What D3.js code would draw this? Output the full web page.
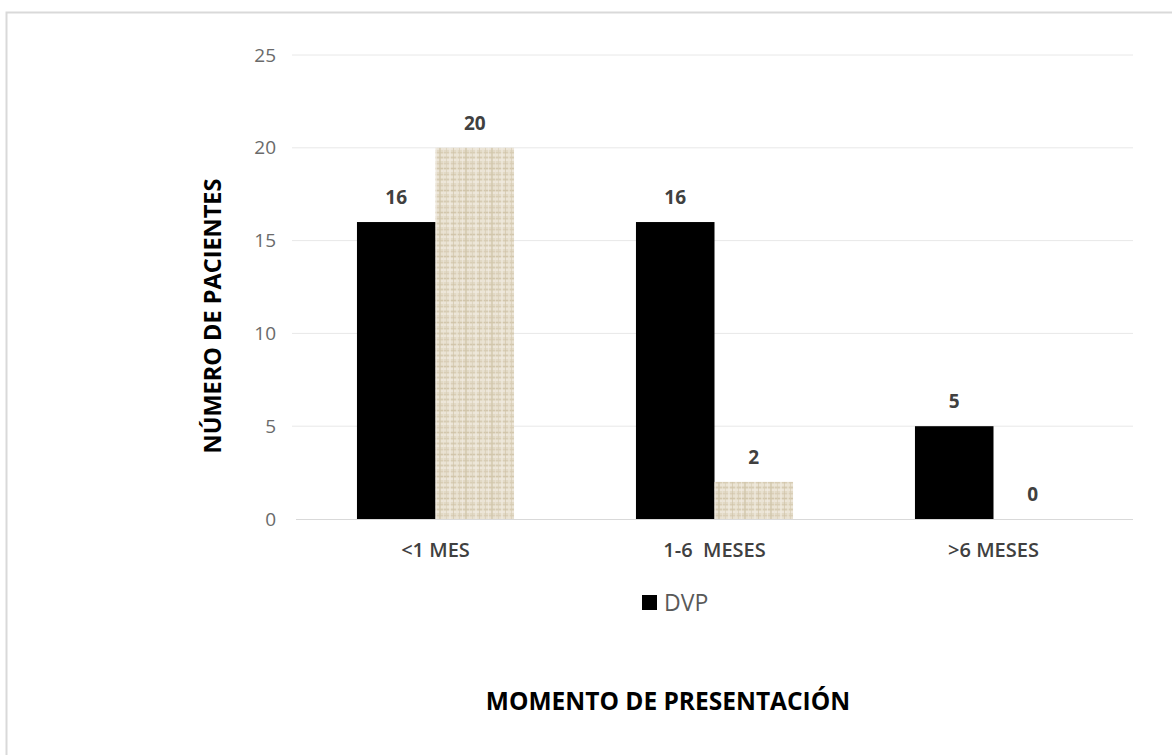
<!DOCTYPE html>
<html><head><meta charset="utf-8">
<script src="https://cdn.jsdelivr.net/npm/d3@7"></script>
<style>body{margin:0;background:#fff}svg{display:block}</style>
</head><body>
<svg id="c" width="1172" height="755"></svg>
<script>
const categories = ["<1 MES", "1-6  MESES", ">6 MESES"];
const seriesNames = ["DVP", ""];
const dvpValues = [16, 16, 5];
const otherValues = [20, 2, 0];
const yTicks = [0, 5, 10, 15, 20, 25];

(function () {
const svg = d3.select("#c");
const font = "'Open Sans', 'Noto Sans', sans-serif";

// outer frame
svg.append("rect").attr("x", 6.5).attr("y", 12.5).attr("width", 1200).attr("height", 800)
  .attr("fill", "none").attr("stroke", "#d9d9d9").attr("stroke-width", 2);

// pattern for burlap texture (fixed, hand-placed threads)
const defs = svg.append("defs");
const pat = defs.append("pattern").attr("id", "burlap").attr("patternUnits", "userSpaceOnUse")
  .attr("width", 26).attr("height", 22);
pat.append("rect").attr("width", 26).attr("height", 22).attr("fill", "#e2d9c5");
const hLines = [[0, 2, "#ece6d8"], [3, 1, "#d4c9b0"], [5, 2, "#efe9dd"], [9, 1, "#d8cdb5"],
                [11, 2, "#e9e2d2"], [14, 1, "#cfc3a8"], [16, 2, "#eee8dc"], [20, 1, "#d6cbb2"]];
hLines.forEach(([yy, h, c]) => pat.append("rect").attr("x", 0).attr("y", yy).attr("width", 26).attr("height", h).attr("fill", c).attr("opacity", 0.85));
const vLines = [[1, 1, "#f1ece1"], [4, 2, "#d2c6ac"], [8, 1, "#ece5d6"], [11, 1, "#d9cfb8"],
                [14, 2, "#f0eadf"], [18, 1, "#d0c4a9"], [21, 2, "#ebe4d5"], [24, 1, "#d7ccb4"]];
vLines.forEach(([xx, w, c]) => pat.append("rect").attr("x", xx).attr("y", 0).attr("width", w).attr("height", 22).attr("fill", c).attr("opacity", 0.7));

const mLeft = 296, mRight = 1133, mTop = 55, mBottom = 519;
const x = d3.scaleBand().domain(categories).range([mLeft, mRight]).paddingInner(0.437).paddingOuter(0.2185);
const xs = d3.scaleBand().domain([0, 1]).range([0, x.bandwidth()]);
const y = d3.scaleLinear().domain([0, 25]).range([mBottom, mTop]);

// gridlines
svg.append("g").selectAll("line").data(yTicks.filter(d => d > 0)).join("line")
  .attr("x1", mLeft - 4).attr("x2", mRight).attr("y1", d => y(d)).attr("y2", d => y(d))
  .attr("stroke", "#e8e8e8").attr("stroke-width", 1);

// y axis
const yAxis = svg.append("g").attr("transform", `translate(${mLeft},0)`)
  .call(d3.axisLeft(y).tickValues(yTicks).tickSize(0).tickPadding(20));
yAxis.select(".domain").remove();
yAxis.attr("font-size", 19).attr("font-family", font);
yAxis.selectAll("text").attr("font-family", font).attr("font-size", 19).attr("fill", "#6a6a6a");

// bars
const data = categories.map((c, i) => ({ c, vals: [dvpValues[i], otherValues[i]] }));
const groups = svg.append("g").selectAll("g").data(data).join("g")
  .attr("transform", d => `translate(${x(d.c)},0)`);
groups.selectAll("rect").data(d => d.vals.map((v, k) => ({ v, k }))).join("rect")
  .attr("x", d => xs(d.k)).attr("width", xs.bandwidth())
  .attr("y", d => y(d.v)).attr("height", d => y(0) - y(d.v))
  .attr("fill", d => d.k === 0 ? "#000" : "url(#burlap)");
groups.selectAll("text").data(d => d.vals.map((v, k) => ({ v, k }))).join("text")
  .attr("x", d => xs(d.k) + xs.bandwidth() / 2).attr("y", d => y(d.v) - 18)
  .attr("text-anchor", "middle").attr("font-family", font).attr("font-size", 19)
  .attr("font-weight", "bold").attr("fill", "#404040").text(d => d.v);

// x axis baseline
svg.append("line").attr("x1", mLeft).attr("x2", mRight).attr("y1", mBottom + 0.5).attr("y2", mBottom + 0.5)
  .attr("stroke", "#d9d9d9");

const xAxis = svg.append("g").attr("transform", `translate(0,${mBottom})`)
  .call(d3.axisBottom(x).tickSize(0).tickPadding(24));
xAxis.select(".domain").remove();
xAxis.attr("font-size", 20).attr("font-family", font);
xAxis.selectAll("text").attr("font-family", font).attr("font-size", 20).attr("font-weight", 600).attr("fill", "#404040")
  .style("white-space", "pre").attr("xml:space", "preserve");

// legend
svg.append("rect").attr("x", 642).attr("y", 595).attr("width", 15).attr("height", 15).attr("fill", "#000");
svg.append("text").attr("x", 664).attr("y", 611).attr("font-family", font).attr("font-size", 23)
  .attr("fill", "#595959").text(seriesNames[0]);

// axis titles
svg.append("text").attr("transform", "translate(221,316) rotate(-90)").attr("text-anchor", "middle")
  .attr("font-family", font).attr("font-size", 23.5).attr("font-weight", "bold").attr("fill", "#000")
  .text("NÚMERO DE PACIENTES");
svg.append("text").attr("x", 668).attr("y", 710).attr("text-anchor", "middle")
  .attr("font-family", font).attr("font-size", 24.5).attr("font-weight", "bold").attr("fill", "#000")
  .text("MOMENTO DE PRESENTACIÓN");
})();
</script>
</body></html>
